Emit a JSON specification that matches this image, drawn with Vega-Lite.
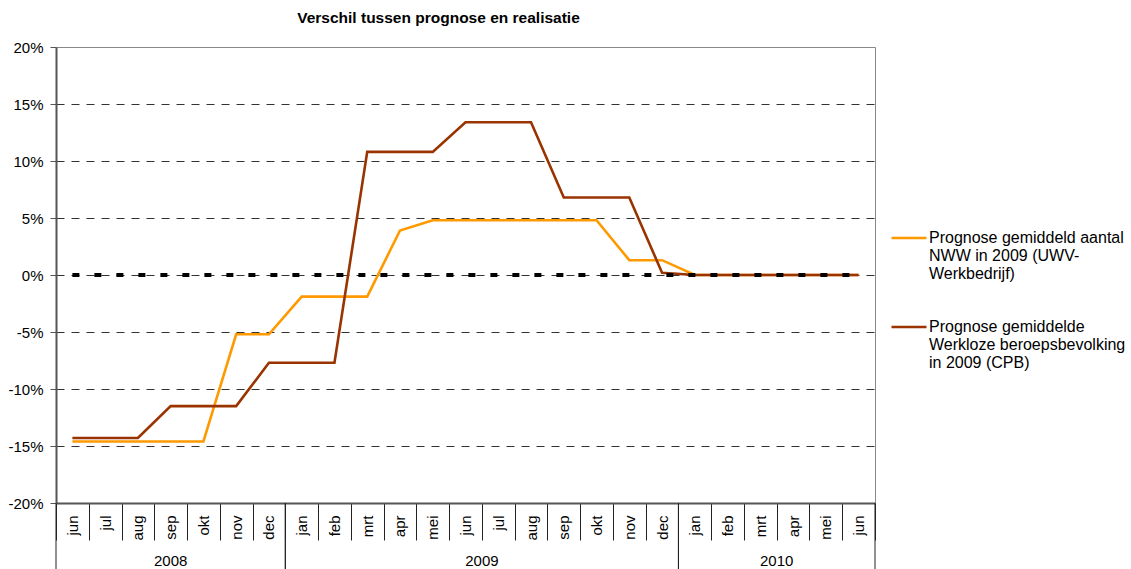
{
  "$schema": "https://vega.github.io/schema/vega-lite/v6.json",
  "width": 819,
  "height": 456,
  "autosize": {"type": "none"},
  "padding": {"left": 56, "top": 47, "right": 256, "bottom": 66},
  "title": {
    "text": "Verschil tussen prognose en realisatie",
    "font": "Liberation Sans",
    "fontSize": 15.5,
    "fontWeight": "bold",
    "color": "black",
    "anchor": "middle",
    "frame": "group",
    "dx": -27,
    "offset": 14
  },
  "datasets": {
    "prognose": [
      {"periode": "jun 2008", "serie": "Prognose gemiddeld aantal NWW in 2009 (UWV-Werkbedrijf)", "waarde": -14.6},
      {"periode": "jul 2008", "serie": "Prognose gemiddeld aantal NWW in 2009 (UWV-Werkbedrijf)", "waarde": -14.6},
      {"periode": "aug 2008", "serie": "Prognose gemiddeld aantal NWW in 2009 (UWV-Werkbedrijf)", "waarde": -14.6},
      {"periode": "sep 2008", "serie": "Prognose gemiddeld aantal NWW in 2009 (UWV-Werkbedrijf)", "waarde": -14.6},
      {"periode": "okt 2008", "serie": "Prognose gemiddeld aantal NWW in 2009 (UWV-Werkbedrijf)", "waarde": -14.6},
      {"periode": "nov 2008", "serie": "Prognose gemiddeld aantal NWW in 2009 (UWV-Werkbedrijf)", "waarde": -5.2},
      {"periode": "dec 2008", "serie": "Prognose gemiddeld aantal NWW in 2009 (UWV-Werkbedrijf)", "waarde": -5.2},
      {"periode": "jan 2009", "serie": "Prognose gemiddeld aantal NWW in 2009 (UWV-Werkbedrijf)", "waarde": -1.9},
      {"periode": "feb 2009", "serie": "Prognose gemiddeld aantal NWW in 2009 (UWV-Werkbedrijf)", "waarde": -1.9},
      {"periode": "mrt 2009", "serie": "Prognose gemiddeld aantal NWW in 2009 (UWV-Werkbedrijf)", "waarde": -1.9},
      {"periode": "apr 2009", "serie": "Prognose gemiddeld aantal NWW in 2009 (UWV-Werkbedrijf)", "waarde": 3.9},
      {"periode": "mei 2009", "serie": "Prognose gemiddeld aantal NWW in 2009 (UWV-Werkbedrijf)", "waarde": 4.8},
      {"periode": "jun 2009", "serie": "Prognose gemiddeld aantal NWW in 2009 (UWV-Werkbedrijf)", "waarde": 4.8},
      {"periode": "jul 2009", "serie": "Prognose gemiddeld aantal NWW in 2009 (UWV-Werkbedrijf)", "waarde": 4.8},
      {"periode": "aug 2009", "serie": "Prognose gemiddeld aantal NWW in 2009 (UWV-Werkbedrijf)", "waarde": 4.8},
      {"periode": "sep 2009", "serie": "Prognose gemiddeld aantal NWW in 2009 (UWV-Werkbedrijf)", "waarde": 4.8},
      {"periode": "okt 2009", "serie": "Prognose gemiddeld aantal NWW in 2009 (UWV-Werkbedrijf)", "waarde": 4.8},
      {"periode": "nov 2009", "serie": "Prognose gemiddeld aantal NWW in 2009 (UWV-Werkbedrijf)", "waarde": 1.3},
      {"periode": "dec 2009", "serie": "Prognose gemiddeld aantal NWW in 2009 (UWV-Werkbedrijf)", "waarde": 1.3},
      {"periode": "jan 2010", "serie": "Prognose gemiddeld aantal NWW in 2009 (UWV-Werkbedrijf)", "waarde": 0},
      {"periode": "feb 2010", "serie": "Prognose gemiddeld aantal NWW in 2009 (UWV-Werkbedrijf)", "waarde": 0},
      {"periode": "mrt 2010", "serie": "Prognose gemiddeld aantal NWW in 2009 (UWV-Werkbedrijf)", "waarde": 0},
      {"periode": "apr 2010", "serie": "Prognose gemiddeld aantal NWW in 2009 (UWV-Werkbedrijf)", "waarde": 0},
      {"periode": "mei 2010", "serie": "Prognose gemiddeld aantal NWW in 2009 (UWV-Werkbedrijf)", "waarde": 0},
      {"periode": "jun 2010", "serie": "Prognose gemiddeld aantal NWW in 2009 (UWV-Werkbedrijf)", "waarde": 0},
      {"periode": "jun 2008", "serie": "Prognose gemiddelde Werkloze beroepsbevolking in 2009 (CPB)", "waarde": -14.3},
      {"periode": "jul 2008", "serie": "Prognose gemiddelde Werkloze beroepsbevolking in 2009 (CPB)", "waarde": -14.3},
      {"periode": "aug 2008", "serie": "Prognose gemiddelde Werkloze beroepsbevolking in 2009 (CPB)", "waarde": -14.3},
      {"periode": "sep 2008", "serie": "Prognose gemiddelde Werkloze beroepsbevolking in 2009 (CPB)", "waarde": -11.5},
      {"periode": "okt 2008", "serie": "Prognose gemiddelde Werkloze beroepsbevolking in 2009 (CPB)", "waarde": -11.5},
      {"periode": "nov 2008", "serie": "Prognose gemiddelde Werkloze beroepsbevolking in 2009 (CPB)", "waarde": -11.5},
      {"periode": "dec 2008", "serie": "Prognose gemiddelde Werkloze beroepsbevolking in 2009 (CPB)", "waarde": -7.7},
      {"periode": "jan 2009", "serie": "Prognose gemiddelde Werkloze beroepsbevolking in 2009 (CPB)", "waarde": -7.7},
      {"periode": "feb 2009", "serie": "Prognose gemiddelde Werkloze beroepsbevolking in 2009 (CPB)", "waarde": -7.7},
      {"periode": "mrt 2009", "serie": "Prognose gemiddelde Werkloze beroepsbevolking in 2009 (CPB)", "waarde": 10.8},
      {"periode": "apr 2009", "serie": "Prognose gemiddelde Werkloze beroepsbevolking in 2009 (CPB)", "waarde": 10.8},
      {"periode": "mei 2009", "serie": "Prognose gemiddelde Werkloze beroepsbevolking in 2009 (CPB)", "waarde": 10.8},
      {"periode": "jun 2009", "serie": "Prognose gemiddelde Werkloze beroepsbevolking in 2009 (CPB)", "waarde": 13.4},
      {"periode": "jul 2009", "serie": "Prognose gemiddelde Werkloze beroepsbevolking in 2009 (CPB)", "waarde": 13.4},
      {"periode": "aug 2009", "serie": "Prognose gemiddelde Werkloze beroepsbevolking in 2009 (CPB)", "waarde": 13.4},
      {"periode": "sep 2009", "serie": "Prognose gemiddelde Werkloze beroepsbevolking in 2009 (CPB)", "waarde": 6.8},
      {"periode": "okt 2009", "serie": "Prognose gemiddelde Werkloze beroepsbevolking in 2009 (CPB)", "waarde": 6.8},
      {"periode": "nov 2009", "serie": "Prognose gemiddelde Werkloze beroepsbevolking in 2009 (CPB)", "waarde": 6.8},
      {"periode": "dec 2009", "serie": "Prognose gemiddelde Werkloze beroepsbevolking in 2009 (CPB)", "waarde": 0.2},
      {"periode": "jan 2010", "serie": "Prognose gemiddelde Werkloze beroepsbevolking in 2009 (CPB)", "waarde": 0},
      {"periode": "feb 2010", "serie": "Prognose gemiddelde Werkloze beroepsbevolking in 2009 (CPB)", "waarde": 0},
      {"periode": "mrt 2010", "serie": "Prognose gemiddelde Werkloze beroepsbevolking in 2009 (CPB)", "waarde": 0},
      {"periode": "apr 2010", "serie": "Prognose gemiddelde Werkloze beroepsbevolking in 2009 (CPB)", "waarde": 0},
      {"periode": "mei 2010", "serie": "Prognose gemiddelde Werkloze beroepsbevolking in 2009 (CPB)", "waarde": 0},
      {"periode": "jun 2010", "serie": "Prognose gemiddelde Werkloze beroepsbevolking in 2009 (CPB)", "waarde": 0}
    ],
    "nul": [
      {"periode": "jun 2008", "waarde": 0}, {"periode": "jul 2008", "waarde": 0}, {"periode": "aug 2008", "waarde": 0},
      {"periode": "sep 2008", "waarde": 0}, {"periode": "okt 2008", "waarde": 0}, {"periode": "nov 2008", "waarde": 0},
      {"periode": "dec 2008", "waarde": 0}, {"periode": "jan 2009", "waarde": 0}, {"periode": "feb 2009", "waarde": 0},
      {"periode": "mrt 2009", "waarde": 0}, {"periode": "apr 2009", "waarde": 0}, {"periode": "mei 2009", "waarde": 0},
      {"periode": "jun 2009", "waarde": 0}, {"periode": "jul 2009", "waarde": 0}, {"periode": "aug 2009", "waarde": 0},
      {"periode": "sep 2009", "waarde": 0}, {"periode": "okt 2009", "waarde": 0}, {"periode": "nov 2009", "waarde": 0},
      {"periode": "dec 2009", "waarde": 0}, {"periode": "jan 2010", "waarde": 0}, {"periode": "feb 2010", "waarde": 0},
      {"periode": "mrt 2010", "waarde": 0}, {"periode": "apr 2010", "waarde": 0}, {"periode": "mei 2010", "waarde": 0},
      {"periode": "jun 2010", "waarde": 0}
    ],
    "jaren": [
      {"jaar": "2008", "begin": "jun 2008", "eind": "dec 2008", "midden": "sep 2008", "even": false},
      {"jaar": "2009", "begin": "jan 2009", "eind": "dec 2009", "midden": "jul 2009", "even": true},
      {"jaar": "2010", "begin": "jan 2010", "eind": "jun 2010", "midden": "apr 2010", "even": true}
    ]
  },
  "layer": [
    {
      "data": {"name": "prognose"},
      "mark": {"type": "line", "strokeWidth": 2.6},
      "encoding": {
        "x": {
          "field": "periode",
          "type": "ordinal",
          "scale": {
            "type": "band",
            "paddingInner": 0,
            "paddingOuter": 0,
            "domain": ["jun 2008","jul 2008","aug 2008","sep 2008","okt 2008","nov 2008","dec 2008","jan 2009","feb 2009","mrt 2009","apr 2009","mei 2009","jun 2009","jul 2009","aug 2009","sep 2009","okt 2009","nov 2009","dec 2009","jan 2010","feb 2010","mrt 2010","apr 2010","mei 2010","jun 2010"]
          },
          "axis": {
            "title": null,
            "tickBand": "extent",
            "tickSize": 37,
            "tickColor": "#222222",
            "tickWidth": 1,
            "labelAngle": 270,
            "labelPadding": -25,
            "labelOverlap": false,
            "labelExpr": "split(datum.label, ' ')[0]",
            "labelFontSize": 15,
            "labelColor": "black",
            "domainColor": "#555555",
            "domainWidth": 2,
            "grid": false
          }
        },
        "y": {
          "field": "waarde",
          "type": "quantitative",
          "scale": {"domain": [-20, 20], "nice": false, "zero": false},
          "axis": {
            "title": null,
            "values": [-20, -15, -10, -5, 0, 5, 10, 15, 20],
            "labelExpr": "datum.value + '%'",
            "labelFontSize": 15,
            "labelColor": "black",
            "labelPadding": 7,
            "tickSize": 6,
            "tickColor": "#555555",
            "domainColor": "#555555",
            "domainWidth": 2,
            "grid": true,
            "gridColor": "#333333",
            "gridDash": [8, 7],
            "gridWidth": 1,
            "gridOpacity": {"condition": {"test": "abs(datum.value) == 20", "value": 0}, "value": 1}
          }
        },
        "color": {
          "field": "serie",
          "type": "nominal",
          "scale": {
            "domain": ["Prognose gemiddeld aantal NWW in 2009 (UWV-Werkbedrijf)", "Prognose gemiddelde Werkloze beroepsbevolking in 2009 (CPB)"],
            "range": ["#FF9900", "#993300"]
          },
          "legend": {
            "title": null,
            "orient": "none",
            "legendX": 834,
            "legendY": 172,
            "symbolType": "stroke",
            "symbolSize": 1225,
            "symbolStrokeWidth": 2.6,
            "labelOffset": 1,
            "labelFontSize": 16,
            "labelColor": "black",
            "labelLimit": 300,
            "rowPadding": 26,
            "labelExpr": "datum.label == 'Prognose gemiddeld aantal NWW in 2009 (UWV-Werkbedrijf)' ? ['Prognose gemiddeld aantal', 'NWW in 2009 (UWV-', 'Werkbedrijf)'] : ['Prognose gemiddelde', 'Werkloze beroepsbevolking', 'in 2009 (CPB)']"
          }
        }
      }
    },
    {
      "data": {"name": "nul"},
      "mark": {"type": "line", "color": "black", "strokeWidth": 4, "strokeDash": [7, 15], "strokeCap": "butt"},
      "encoding": {
        "x": {"field": "periode", "type": "ordinal"},
        "y": {"field": "waarde", "type": "quantitative"}
      }
    },
    {
      "data": {"name": "jaren"},
      "mark": {"type": "rule", "color": "#222222", "strokeWidth": 1},
      "encoding": {
        "x": {"field": "begin", "type": "ordinal", "bandPosition": 0},
        "y": {"datum": -20},
        "y2": {"datum": -26}
      }
    },
    {
      "data": {"name": "jaren"},
      "mark": {"type": "rule", "color": "#222222", "strokeWidth": 1},
      "encoding": {
        "x": {"field": "eind", "type": "ordinal", "bandPosition": 1},
        "y": {"datum": -20},
        "y2": {"datum": -26}
      }
    },
    {
      "data": {"name": "jaren"},
      "transform": [{"filter": "!datum.even"}],
      "mark": {"type": "text", "fontSize": 15, "color": "black", "baseline": "middle", "align": "center"},
      "encoding": {
        "x": {"field": "midden", "type": "ordinal", "bandPosition": 0.5},
        "y": {"datum": -25.1},
        "text": {"field": "jaar"}
      }
    },
    {
      "data": {"name": "jaren"},
      "transform": [{"filter": "datum.even"}],
      "mark": {"type": "text", "fontSize": 15, "color": "black", "baseline": "middle", "align": "center"},
      "encoding": {
        "x": {"field": "midden", "type": "ordinal", "bandPosition": 0},
        "y": {"datum": -25.1},
        "text": {"field": "jaar"}
      }
    }
  ],
  "config": {
    "font": "Liberation Sans",
    "view": {"stroke": "#888888", "strokeWidth": 1},
    "background": "white"
  }
}
